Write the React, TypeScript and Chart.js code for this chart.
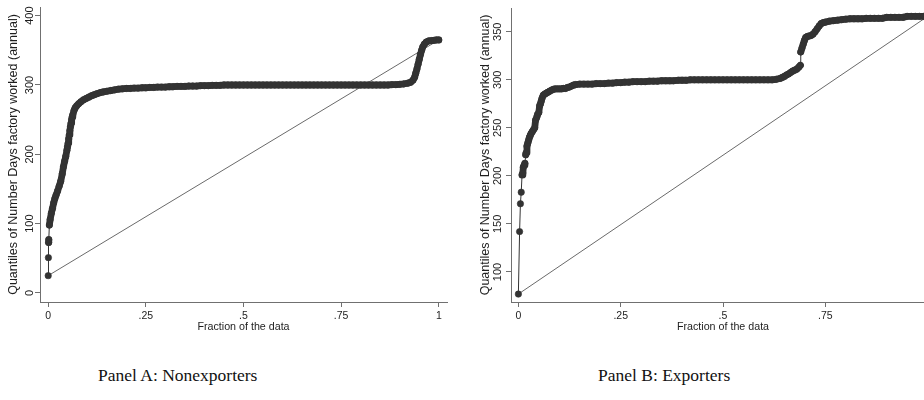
import React, { useEffect, useRef } from 'react';
import { Chart, registerables } from 'chart.js';

Chart.register(...registerables);

// Axis ticks
const xTickValues = [0, 0.25, 0.5, 0.75, 1];
const xTickLabels = ['0', '.25', '.5', '.75', '1'];
const nonexpYTicks = [0, 100, 200, 300, 400];
const expYTicks = [100, 150, 200, 250, 300, 350];

// Panel A: nonexporters — fraction of the data vs. days worked
const nonexpFraction = [
  0, 0.0005, 0.001, 0.0015, 0.003, 0.005, 0.008, 0.011, 0.014, 0.017,
  0.02, 0.024, 0.028, 0.032, 0.036, 0.039, 0.042, 0.045, 0.048, 0.0495,
  0.051, 0.0525, 0.054, 0.0555, 0.057, 0.0585, 0.06, 0.0615, 0.063, 0.066,
  0.069, 0.073, 0.078, 0.084, 0.09,
  0.097, 0.104, 0.111, 0.118, 0.125, 0.133, 0.141, 0.15, 0.16, 0.17,
  0.18, 0.19, 0.2, 0.21, 0.22, 0.23, 0.24, 0.25, 0.26, 0.27,
  0.28, 0.29, 0.3, 0.31, 0.32, 0.33, 0.34, 0.35, 0.36, 0.37,
  0.38, 0.39, 0.4, 0.41, 0.42, 0.43, 0.44, 0.45, 0.46, 0.47,
  0.48, 0.49, 0.5, 0.51, 0.52, 0.53, 0.54, 0.55, 0.56, 0.57,
  0.58, 0.59, 0.6, 0.61, 0.62, 0.63, 0.64, 0.65, 0.66, 0.67,
  0.68, 0.69, 0.7, 0.71, 0.72, 0.73, 0.74, 0.75, 0.76, 0.77,
  0.78, 0.79, 0.8, 0.81, 0.82, 0.83, 0.84, 0.85, 0.86, 0.87,
  0.88, 0.89, 0.9, 0.91, 0.92, 0.928, 0.934, 0.938, 0.941, 0.944,
  0.947, 0.95, 0.953, 0.956, 0.959, 0.963, 0.968, 0.974, 0.981, 0.988,
  0.994, 1,
];
const nonexpDays = [
  25, 51, 73, 77, 98, 106, 115, 122, 130, 136,
  141, 147, 154, 161, 172, 182, 190, 197, 206, 211,
  216, 222, 228, 234, 240, 245, 250, 254, 257, 263,
  267, 270, 273, 276, 278.5,
  280.5, 282.5, 284.5, 286, 287.5, 289, 290, 291, 292, 293,
  294, 294.5, 295, 295, 295.5, 295.5, 296, 296, 296.5, 296.5,
  297, 297, 297, 297.5, 297.5, 298, 298, 298, 298.5, 298.5,
  298.5, 299, 299, 299, 299.5, 299.5, 299.5, 300, 300, 300,
  300, 300, 300, 300, 300, 300, 300, 300, 300, 300,
  300, 300, 300, 300, 300, 300, 300, 300, 300, 300,
  300, 300, 300, 300, 300, 300, 300, 300, 300, 300,
  300, 300, 300, 300, 300, 300, 300, 300, 300, 300,
  300.5, 300.5, 301, 301.5, 302.5, 304, 307, 311, 317, 323,
  330, 337, 344, 350, 355, 359, 362, 363.5, 364, 364.5,
  365, 365,
];

// Panel B: exporters — fraction of the data vs. days worked
const expFraction = [
  0, 0.003, 0.005, 0.007, 0.009, 0.011, 0.012, 0.014, 0.016, 0.018,
  0.019, 0.021, 0.023, 0.025, 0.027, 0.029, 0.031, 0.034, 0.037, 0.04,
  0.042, 0.045, 0.047, 0.05, 0.052, 0.054, 0.056, 0.058, 0.061, 0.064,
  0.068, 0.072, 0.076, 0.08, 0.085, 0.09, 0.095, 0.1, 0.105, 0.11,
  0.115, 0.12, 0.125, 0.13, 0.135, 0.14, 0.15, 0.16, 0.17, 0.18,
  0.19, 0.2, 0.21, 0.22, 0.23, 0.24, 0.25, 0.26, 0.27, 0.28,
  0.29, 0.3, 0.31, 0.32, 0.33, 0.34, 0.35, 0.36, 0.37, 0.38,
  0.39, 0.4, 0.41, 0.42, 0.43, 0.44, 0.45, 0.46, 0.47, 0.48,
  0.49, 0.5, 0.51, 0.52, 0.53, 0.54, 0.55, 0.56, 0.57, 0.58,
  0.59, 0.6, 0.61, 0.62, 0.63, 0.64, 0.645, 0.65, 0.655, 0.66,
  0.665, 0.67, 0.675, 0.68, 0.685, 0.689, 0.69, 0.693, 0.696, 0.699,
  0.702, 0.706, 0.71, 0.715, 0.72, 0.725, 0.73, 0.735, 0.74, 0.745,
  0.75, 0.76, 0.77, 0.78, 0.79, 0.8, 0.81, 0.82, 0.83, 0.84,
  0.85, 0.86, 0.87, 0.88, 0.89, 0.9, 0.91, 0.92, 0.93, 0.94,
  0.95, 0.96, 0.97, 0.98, 0.99, 1,
];
const expDays = [
  77, 142, 171, 183, 201, 203, 209, 211, 213, 222,
  224, 231, 234, 237, 240, 242, 244, 246, 248, 250,
  258, 261, 264, 266, 273, 275, 278, 281, 284, 285,
  286, 287, 288, 289, 290, 290.5, 290.5, 290.5, 290.5, 291,
  291, 292, 292.5, 293.5, 294.5, 295, 295.5, 295.5, 295.5, 295.5,
  296, 296, 296, 296.5, 296.5, 297, 297, 297.5, 297.5, 298,
  298, 298, 298, 298.5, 298.5, 298.5, 299, 299, 299, 299,
  299.5, 299.5, 299.5, 300, 300, 300, 300, 300, 300, 300,
  300, 300, 300, 300, 300, 300, 300, 300, 300, 300,
  300, 300, 300, 300, 300.5, 301.5, 302.5, 303.5, 305, 306,
  307.5, 309, 310, 311, 313, 315, 329, 333, 337, 341,
  344, 345, 345.5, 346, 347.5, 350, 353, 356, 358.5, 359.5,
  360, 361, 361.5, 362, 362.5, 363, 363.5, 363.5, 363.5, 363.5,
  364, 364, 364, 364, 364, 365, 365, 365, 365, 365,
  366, 366, 366, 366, 366, 366,
];

// Reference lines from (0, min) to (1, max)
const refFraction = [0, 1];
const nonexpRefDays = [25, 365];
const expRefDays = [77, 366];

const yTitle = 'Quantiles of Number Days factory worked (annual)';
const xTitle = 'Fraction of the data';
const captionA = 'Panel A: Nonexporters';
const captionB = 'Panel B: Exporters';

const SANS = "'Liberation Sans', Arial, Helvetica, sans-serif";
const AXIS = '#707070';
const TEXT = '#1e1e1e';
const MARK = '#333333';
const MARKER_R = 3.2;

type PanelSpec = {
  fraction: number[];
  days: number[];
  refDays: number[];
  yTicks: number[];
  xMin: number;
  xMax: number;
  yMin: number;
  yMax: number;
  yAxisWidth: number;
  padTop: number;
  padRight: number;
  yTickPad: number;
  yTitlePad: number;
};

// Where neighbouring markers overlap, the connecting segment is widened to the
// marker diameter so the dense run reads as one solid band; isolated jumps stay thin.
const segmentWidth = (ctx: any) => {
  const d = Math.hypot(ctx.p1.x - ctx.p0.x, ctx.p1.y - ctx.p0.y);
  return d < 2.6 * MARKER_R ? 2 * MARKER_R + 0.4 : 1;
};

function makeChart(canvas: HTMLCanvasElement, p: PanelSpec) {
  return new Chart(canvas, {
    type: 'scatter',
    data: {
      datasets: [
        {
          label: 'quantiles',
          data: p.fraction.map((x, i) => ({ x, y: p.days[i] })),
          showLine: true,
          borderColor: MARK,
          borderWidth: 1,
          borderCapStyle: 'round',
          borderJoinStyle: 'round',
          segment: { borderWidth: segmentWidth },
          pointRadius: MARKER_R,
          pointBackgroundColor: MARK,
          pointBorderColor: MARK,
          pointBorderWidth: 0.6,
        },
        {
          label: 'reference',
          data: refFraction.map((x, i) => ({ x, y: p.refDays[i] })),
          showLine: true,
          borderColor: '#6a6a6a',
          borderWidth: 1,
          pointRadius: 0,
        },
      ],
    },
    options: {
      animation: false,
      responsive: false,
      layout: { padding: { top: p.padTop, right: p.padRight, left: 0, bottom: 0 } },
      plugins: { legend: { display: false }, tooltip: { enabled: false } },
      scales: {
        x: {
          type: 'linear',
          min: p.xMin,
          max: p.xMax,
          afterBuildTicks: (s: any) => {
            s.ticks = xTickValues.map((v) => ({ value: v }));
          },
          afterFit: (s: any) => {
            s.height = 38;
          },
          grid: { drawOnChartArea: false, drawTicks: true, tickLength: 5, tickColor: AXIS, color: AXIS },
          border: { display: true, color: AXIS, width: 1 },
          ticks: {
            autoSkip: false,
            maxRotation: 0,
            minRotation: 0,
            padding: 2.7,
            color: TEXT,
            font: { family: SANS, size: 10.5 },
            callback: (_v: any, i: number) => xTickLabels[i],
          },
          title: {
            display: true,
            text: xTitle,
            color: TEXT,
            font: { family: SANS, size: 10.7 },
            padding: { top: 0, bottom: 6.6 },
          },
        },
        y: {
          type: 'linear',
          min: p.yMin,
          max: p.yMax,
          afterBuildTicks: (s: any) => {
            s.ticks = p.yTicks.map((v) => ({ value: v }));
          },
          afterFit: (s: any) => {
            s.width = p.yAxisWidth;
          },
          grid: { drawOnChartArea: false, drawTicks: true, tickLength: 5, tickColor: AXIS, color: AXIS },
          border: { display: true, color: AXIS, width: 1 },
          ticks: {
            autoSkip: false,
            minRotation: 90,
            maxRotation: 90,
            crossAlign: 'center',
            padding: p.yTickPad,
            color: TEXT,
            font: { family: SANS, size: 11 },
            callback: (_v: any, i: number) => String(p.yTicks[i]),
          },
          title: {
            display: true,
            text: yTitle,
            color: TEXT,
            font: { family: SANS, size: 12.5 },
            padding: { top: p.yTitlePad, bottom: 0 },
          },
        },
      },
    },
  } as any);
}

const panelA: PanelSpec = {
  fraction: nonexpFraction,
  days: nonexpDays,
  refDays: nonexpRefDays,
  yTicks: nonexpYTicks,
  xMin: -0.021,
  xMax: 1.021,
  yMin: -13,
  yMax: 412.5,
  yAxisWidth: 40,
  padTop: 7,
  padRight: 15,
  yTickPad: -4.2,
  yTitlePad: 6.5,
};

const panelB: PanelSpec = {
  fraction: expFraction,
  days: expDays,
  refDays: expRefDays,
  yTicks: expYTicks,
  xMin: -0.018,
  xMax: 1.018,
  yMin: 68.75,
  yMax: 374.7,
  yAxisWidth: 50,
  padTop: 8,
  padRight: 15,
  yTickPad: -1.2,
  yTitlePad: 17.5,
};

export default function App() {
  const leftRef = useRef<HTMLCanvasElement>(null);
  const rightRef = useRef<HTMLCanvasElement>(null);

  useEffect(() => {
    const a = makeChart(leftRef.current!, panelA);
    const b = makeChart(rightRef.current!, panelB);
    return () => {
      a.destroy();
      b.destroy();
    };
  }, []);

  const caption: React.CSSProperties = {
    position: 'absolute',
    top: 364,
    fontFamily: "'Liberation Serif', 'Times New Roman', serif",
    fontSize: 17.5,
    lineHeight: '22px',
    color: '#111',
    whiteSpace: 'nowrap',
  };

  return (
    <div
      style={{
        position: 'fixed',
        left: 0,
        top: 0,
        width: 924,
        height: 400,
        overflow: 'hidden',
        background: '#fff',
      }}
    >
      <canvas ref={leftRef} width={462} height={340} style={{ position: 'absolute', left: 0, top: 0 }} />
      <canvas ref={rightRef} width={489} height={340} style={{ position: 'absolute', left: 461, top: 0 }} />
      <div style={{ ...caption, left: 98 }}>{captionA}</div>
      <div style={{ ...caption, left: 598 }}>{captionB}</div>
    </div>
  );
}
